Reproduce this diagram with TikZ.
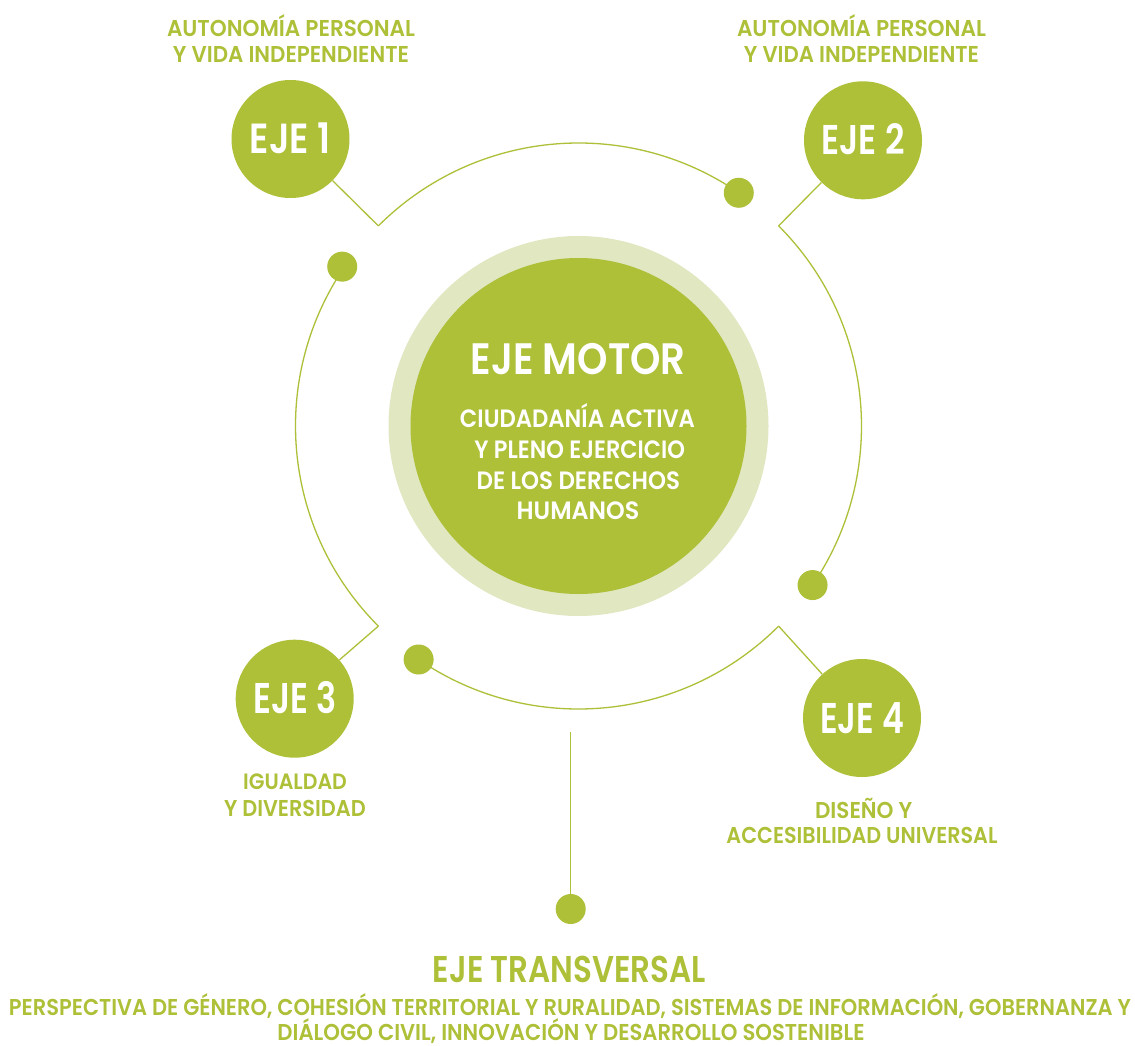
\documentclass[tikz,border=0pt]{standalone}
\usepackage{fontspec}
\setmainfont{Poppins}[BoldFont={Poppins SemiBold}]
\usepackage{graphicx}
\usetikzlibrary{calc}
\definecolor{leaf}{RGB}{174,191,56}
\definecolor{pale}{RGB}{225,231,193}
\newlength\fitcap
\newcommand{\fitt}[3]{\settoheight{\fitcap}{H}\resizebox{#1pt}{#2pt}{\raisebox{0pt}[\fitcap][0pt]{#3}}}
\tikzset{
  ejecirc/.style={circle, fill=leaf, minimum size=118pt, inner sep=0pt, text=white, font=\bfseries},
  bead/.style={circle, fill=leaf, minimum size=30pt, inner sep=0pt},
  lbl/.style={anchor=base, inner sep=0pt, text=leaf, font=\bfseries},
  wlbl/.style={anchor=base, inner sep=0pt, text=white, font=\bfseries},
  ringline/.style={draw=leaf, line width=1.3pt},
}
\begin{document}
\begin{tikzpicture}[x=1pt,y=-1pt]
\useasboundingbox (0,0) rectangle (1135,1046);
\coordinate (C) at (578.5,426);
% central disc
\node[circle, fill=pale, minimum size=380pt, inner sep=0pt] (halo) at (C) {};
\node[circle, fill=leaf, minimum size=336pt, inner sep=0pt] (core) at (C) {};
\node[wlbl] (motor) at (578,374) {\fitt{215}{30.7}{EJE MOTOR}};
\node[wlbl] (m1) at (577.5,427.3) {\fitt{235}{17.5}{CIUDADANÍA ACTIVA}};
\node[wlbl] (m2) at (579.7,458.3) {\fitt{210.7}{17.5}{Y PLENO EJERCICIO}};
\node[wlbl] (m3) at (578.3,489) {\fitt{203.3}{17.5}{DE LOS DERECHOS}};
\node[wlbl] (m4) at (578,519.3) {\fitt{122.7}{17.5}{HUMANOS}};
% kinks on the ring
\coordinate (k1) at ([shift={(-135:283)}]C);
\coordinate (k2) at ([shift={(-45:283)}]C);
\coordinate (k4) at ([shift={(45:283)}]C);
\coordinate (k3) at ([shift={(135:283)}]C);
% ring arcs
\draw[ringline] (k1) arc[start angle=-135, end angle=-55.5, radius=283];
\draw[ringline] (k2) arc[start angle=-45, end angle=34.2, radius=283];
\draw[ringline] (k4) arc[start angle=45, end angle=124.4, radius=283];
\draw[ringline] (k3) arc[start angle=135, end angle=214, radius=283];
% dots at arc ends
\node[bead] (d1) at ([shift={(-55.5:283)}]C) {};
\node[bead] (d2) at ([shift={(34.2:283)}]C) {};
\node[bead] (d3) at ([shift={(124.4:283)}]C) {};
\node[bead] (d4) at ([shift={(214:285)}]C) {};
% EJE circles
\node[ejecirc] (e1) at (290.5,139) {\fitt{81}{29.4}{EJE 1}};
\node[ejecirc] (e2) at (863,140.3) {\fitt{83}{29}{EJE 2}};
\node[ejecirc] (e3) at (294.7,698.7) {\fitt{83}{30}{EJE 3}};
\node[ejecirc] (e4) at (862,718) {\fitt{84}{30}{EJE 4}};
\draw[ringline] (k1) -- (e1);
\draw[ringline] (k2) -- (e2);
\draw[ringline] (k3) -- (e3);
\draw[ringline] (k4) -- (e4);
% labels
\node[lbl] (l1a) at (291,36.7) {\fitt{248}{16}{AUTONOMÍA PERSONAL}};
\node[lbl] (l1b) at (291,62.7) {\fitt{236}{16}{Y VIDA INDEPENDIENTE}};
\node[lbl] (l2a) at (861.5,36.7) {\fitt{249}{16}{AUTONOMÍA PERSONAL}};
\node[lbl] (l2b) at (861.5,62.7) {\fitt{235}{16}{Y VIDA INDEPENDIENTE}};
\node[lbl] (l3a) at (295,789.3) {\fitt{103.7}{15.5}{IGUALDAD}};
\node[lbl] (l3b) at (295,816) {\fitt{141.7}{16}{Y DIVERSIDAD}};
\node[lbl] (l4a) at (863.7,818.3) {\fitt{97.3}{16}{DISEÑO Y}};
\node[lbl] (l4b) at (862,843.3) {\fitt{271}{16}{ACCESIBILIDAD UNIVERSAL}};
% transversal axis
\coordinate (ts) at (570.7,732);
\node[bead] (dT) at (570.7,909) {};
\draw[ringline] (ts) -- (dT);
\node[lbl] (tt) at (569.5,982) {\fitt{273}{26}{EJE TRANSVERSAL}};
\node[lbl] (tx1) at (570,1015) {\fitt{1122}{16}{PERSPECTIVA DE GÉNERO, COHESIÓN TERRITORIAL Y RURALIDAD, SISTEMAS DE INFORMACIÓN, GOBERNANZA Y}};
\node[lbl] (tx2) at (571,1040) {\fitt{587}{16}{DIÁLOGO CIVIL, INNOVACIÓN Y DESARROLLO SOSTENIBLE}};
\end{tikzpicture}
\end{document}
